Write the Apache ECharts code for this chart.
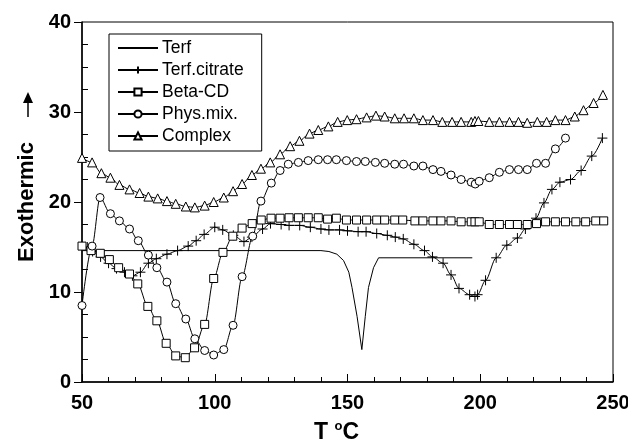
<!DOCTYPE html>
<html>
<head>
<meta charset="utf-8">
<script src="https://cdn.jsdelivr.net/npm/echarts@6/dist/echarts.min.js"></script>
<style>
  html, body { margin: 0; padding: 0; background: #fff; }
  #chart { width: 628px; height: 444px; }
</style>
</head>
<body>
<div id="chart"></div>
<script>
// values, [T degC, exothermic]
const terf = [
  [50, 14.6], [140, 14.6], [143, 14.5], [146, 14.2], [148.5, 13.5], [150.5, 12.2],
  [151.7, 10.5], [153.6, 7.3], [155.4, 3.6], [156.7, 7.3], [157.9, 10.5],
  [159.8, 12.7], [161.7, 13.8], [197, 13.8]
];
const terfCitrate = [
  [52, 15.0], [54, 14.5], [57, 13.9], [60, 13.2], [63, 12.6], [66, 12.2], [69, 11.8],
  [72, 12.2], [75, 13.2], [78, 13.7], [82, 14.2], [86, 14.6], [90, 15.1], [93, 15.7],
  [96, 16.4], [100, 17.2], [103, 16.9], [107, 16.3], [111, 15.6], [114, 16.1],
  [118, 17.0], [121, 17.6], [125, 17.5], [128, 17.4], [132, 17.4], [136, 17.2],
  [140, 17.0], [143, 16.9], [147, 16.9], [150, 16.8], [154, 16.7], [157, 16.7],
  [161, 16.5], [165, 16.3], [168, 16.1], [171, 15.9], [175, 15.3], [179, 14.6],
  [182, 13.9], [186, 13.2], [189, 11.9], [192, 10.4], [196, 9.7], [198, 9.5],
  [199, 9.7], [202, 11.3], [206, 13.8], [210, 15.2], [214, 16.0], [217, 17.0],
  [221, 18.2], [224, 19.9], [227, 21.4], [230, 22.2], [234, 22.5], [238, 23.5],
  [242, 25.1], [246, 27.1]
];
const betaCD = [
  [50, 15.1], [53.4, 14.6], [56.9, 14.3], [60.3, 13.6], [63.8, 12.7], [67.9, 12.0],
  [71, 10.9], [74.8, 8.4], [78.2, 6.8], [81.7, 4.3], [85.3, 2.9], [88.9, 2.7],
  [92.4, 3.8], [96.2, 6.4], [99.6, 11.5], [103.1, 14.4], [106.8, 16.2], [110.3, 17.1],
  [114.1, 17.6], [117.5, 18.0], [121.2, 18.2], [124.6, 18.2], [128, 18.25],
  [131.5, 18.25], [135.2, 18.25], [139, 18.25], [142.5, 18.1], [145.8, 18.2],
  [149.6, 18.0], [153.4, 18.0], [157.2, 18.0], [161, 18.0], [164, 18.0], [167.8, 18.0],
  [170.8, 18.0], [175.4, 17.9], [178.4, 17.9], [182.2, 17.9], [185.2, 17.9],
  [189, 17.9], [192.8, 17.8], [196.6, 17.8], [198, 17.8], [199.6, 17.8], [203.4, 17.5],
  [207.2, 17.5], [211, 17.5], [214, 17.5], [217.7, 17.5], [221.2, 17.6], [224.6, 17.8],
  [228.3, 17.8], [232.1, 17.8], [236, 17.8], [239.7, 17.8], [243.5, 17.9], [246.5, 17.9]
];
const physMix = [
  [50, 8.5], [53.8, 15.1], [56.8, 20.5], [60.7, 18.7], [64.1, 17.9], [67.9, 17.0],
  [71.2, 15.7], [75, 14.1], [78.2, 12.7], [82, 11.1], [85.3, 8.7], [89.1, 7.0],
  [92.5, 4.8], [96.2, 3.5], [99.6, 3.0], [103.4, 3.6], [106.9, 6.3], [110.3, 11.7],
  [114.3, 16.2], [117.4, 20.1], [121.3, 22.1], [124.6, 23.5], [127.7, 24.2],
  [131.5, 24.4], [135.2, 24.6], [139, 24.7], [142.5, 24.7], [145.8, 24.7],
  [149.6, 24.6], [153.4, 24.5], [156.7, 24.5], [160.5, 24.4], [164, 24.3],
  [167.8, 24.2], [171.1, 24.2], [175, 24.0], [178.4, 24.0], [182.2, 23.6],
  [185.2, 23.4], [189, 23.0], [192.8, 22.5], [196.6, 22.2], [198.1, 22.0],
  [199.6, 22.3], [203.4, 22.7], [207.2, 23.3], [211, 23.6], [214.4, 23.6],
  [217.7, 23.6], [221.2, 24.3], [224.6, 24.3], [228.3, 25.9], [232.1, 27.1]
];
const complex = [
  [50, 24.9], [53.8, 24.4], [57.3, 23.2], [60.7, 22.7], [64.1, 21.9], [67.9, 21.4],
  [71.7, 21.0], [75, 20.6], [78.5, 20.4], [82, 20.1], [85.3, 19.8], [89.1, 19.5],
  [92.5, 19.4], [96.2, 19.6], [99.6, 20.0], [103.4, 20.5], [106.9, 21.2], [110.3, 22.0],
  [114, 23.0], [117.4, 23.7], [120.9, 24.4], [124.6, 25.3], [128.4, 26.2], [131.9, 26.8],
  [135.7, 27.6], [139, 28.0], [142.8, 28.4], [146.3, 28.9], [149.9, 29.1], [153.4, 29.2],
  [157.2, 29.4], [160.7, 29.6], [164, 29.5], [167.8, 29.3], [171.3, 29.3], [175, 29.3],
  [178.4, 29.1], [182.2, 29.1], [185.7, 28.9], [189.4, 28.9], [192.8, 28.9],
  [196.6, 28.9], [198, 29.0], [199.3, 29.0], [203.4, 28.9], [207.2, 28.9], [211, 28.9],
  [214.4, 28.9], [217.7, 28.8], [221.5, 28.9], [225, 28.9], [228.3, 29.1], [232.1, 29.1],
  [235.6, 29.5], [238.9, 30.2], [242.7, 31.0], [246.2, 31.9]
];
const seriesNames = ['Terf', 'Terf.citrate', 'Beta-CD', 'Phys.mix.', 'Complex'];
const xTicks = { min: 50, max: 250, step: 50 };
const yTicks = { min: 0, max: 40, step: 10 };

const font = '"Liberation Sans", Arial, sans-serif';
const plusPath = 'path://M0,5L10,5M5,0L5,10';

const chart = echarts.init(document.getElementById('chart'), null, { renderer: 'canvas' });

function lineSeries(name, data, symbol, size, smooth) {
  return {
    name: name,
    type: 'line',
    data: data,
    symbol: symbol,
    symbolSize: size,
    showSymbol: symbol !== 'none',
    smooth: smooth,
    smoothMonotone: 'x',
    animation: false,
    lineStyle: { color: '#000', width: 1 },
    itemStyle: { color: '#fff', borderColor: '#000', borderWidth: 1 },
    emphasis: { disabled: true }
  };
}

// Terf has no marker: hide the legend symbol, keep the line
const legendData = seriesNames.map(function (n) {
  return n === 'Terf'
    ? { name: n, itemStyle: { color: 'rgba(0,0,0,0)', borderWidth: 0 } }
    : { name: n };
});

chart.setOption({
  backgroundColor: '#fff',
  animation: false,
  grid: {
    left: 82, right: 15, top: 22, bottom: 62,
    outerBoundsMode: 'none',
    containLabel: false,
    show: true, borderColor: '#000', borderWidth: 1
  },
  legend: {
    orient: 'vertical',
    left: 109, top: 34,
    padding: [5, 18, 6, 8],
    itemGap: 4,
    itemWidth: 40,
    itemHeight: 9,
    borderColor: '#000',
    borderWidth: 1,
    backgroundColor: '#fff',
    textStyle: { fontFamily: font, fontSize: 17.5, color: '#000', padding: [0, 0, 0, -1] },
    data: legendData
  },
  xAxis: [{
    type: 'value',
    min: xTicks.min, max: xTicks.max, interval: xTicks.step,
    name: 'T {sup|o}C',
    nameLocation: 'middle',
    nameGap: 38,
    nameTextStyle: {
      fontFamily: font, fontSize: 23, fontWeight: 'bold', color: '#000',
      padding: [0, 22, 0, 0],
      rich: { sup: { fontFamily: font, fontSize: 13, fontWeight: 'bold', color: '#000', verticalAlign: 'top', padding: [0, 0, 12, 0] } }
    },
    axisLine: { lineStyle: { color: '#000', width: 1.5 } },
    axisTick: { inside: true, length: 8, lineStyle: { color: '#000' } },
    minorTick: { show: true, splitNumber: 5, length: 5, lineStyle: { color: '#000' } },
    axisLabel: { fontFamily: font, fontSize: 20, fontWeight: 'bold', color: '#000', margin: 11 },
    splitLine: { show: false }
  }],
  yAxis: [{
    type: 'value',
    min: yTicks.min, max: yTicks.max, interval: yTicks.step,
    position: 'left',
    name: 'Exothermic',
    nameLocation: 'middle',
    nameGap: 42,
    nameTextStyle: { fontFamily: font, fontSize: 22, fontWeight: 'bold', color: '#000' },
    axisLine: { lineStyle: { color: '#000', width: 1.5 } },
    axisTick: { inside: false, length: 8, lineStyle: { color: '#000' } },
    axisLabel: { fontFamily: font, fontSize: 20, fontWeight: 'bold', color: '#000', margin: 11 },
    splitLine: { show: false }
  }, {
    type: 'value',
    min: yTicks.min, max: yTicks.max, interval: yTicks.step,
    position: 'left',
    axisLine: { show: false },
    axisTick: { show: false, inside: true },
    minorTick: { show: true, splitNumber: 4, length: 6, lineStyle: { color: '#000' } },
    axisLabel: { show: false },
    splitLine: { show: false }
  }],
  graphic: [{
    type: 'group',
    silent: true,
    children: [
      { type: 'line', shape: { x1: 28, y1: 117, x2: 28, y2: 100 }, style: { stroke: '#000', lineWidth: 1.5 } },
      { type: 'polygon', shape: { points: [[23, 103], [33, 103], [28, 92]] }, style: { fill: '#000' } }
    ]
  }],
  series: [
    lineSeries('Terf', terf, 'none', 0, false),
    lineSeries('Terf.citrate', terfCitrate, plusPath, 10, 0.3),
    lineSeries('Beta-CD', betaCD, 'rect', 8, 0.3),
    lineSeries('Phys.mix.', physMix, 'circle', 8, 0.3),
    lineSeries('Complex', complex, 'triangle', 9, 0.3)
  ]
});
</script>
</body>
</html>
